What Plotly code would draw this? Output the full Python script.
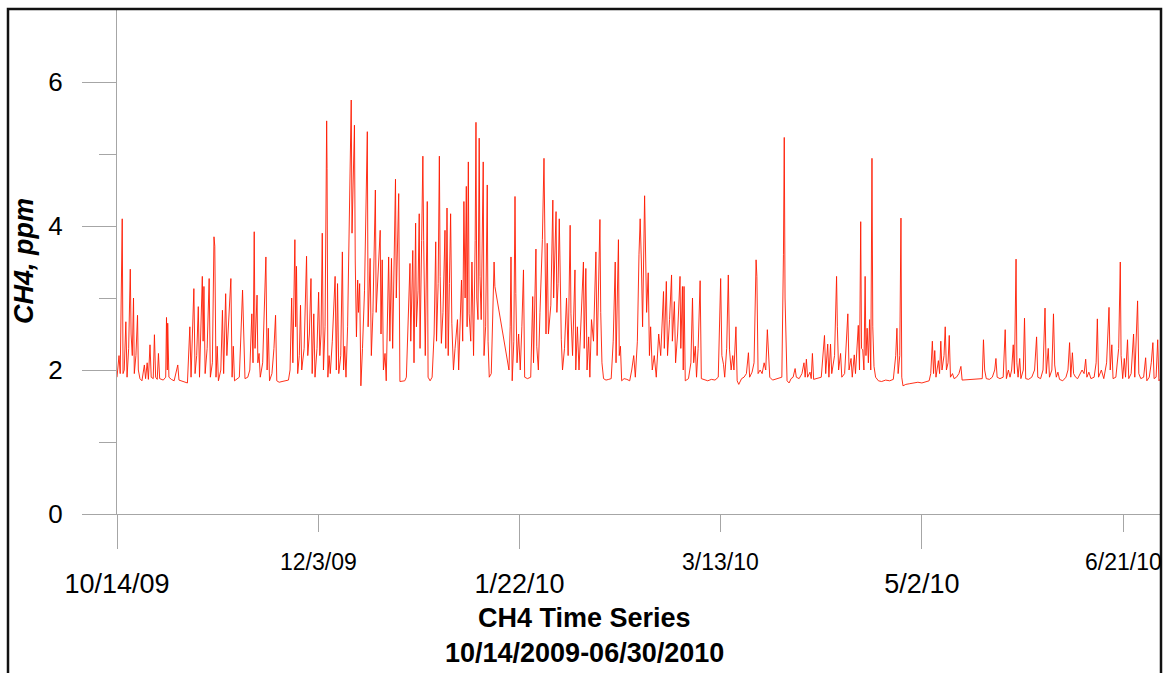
import pandas as pd
import plotly.graph_objects as go

# ---- data -------------------------------------------------------------
start_date = "2009-10-14"
end_date = "2010-06-30 10:00"

# elapsed days since start_date and measured CH4 (ppm)
elapsed_days = [
    0.0, 0.5, 0.8, 1.2, 1.3, 1.5, 1.8, 2.2, 2.5, 2.9, 3.3, 3.5, 3.8, 4.1, 4.3, 4.7,
    5.1, 5.3, 5.7, 6.2, 6.8, 7.1, 7.5, 7.8, 8.2, 8.5, 9.0, 9.3, 9.6, 10.0, 10.3, 10.6,
    11.5, 12.1, 12.3, 12.5, 12.6, 12.9, 13.5, 14.2, 15.1, 15.4, 16.0, 16.8, 17.5,
    18.1, 18.4, 19.1, 19.4, 19.8, 20.2, 20.5, 21.2, 21.4, 21.6, 21.9, 22.4, 22.9, 23.2,
    23.7, 24.1, 24.3, 24.6, 24.9, 25.2, 25.8, 26.2, 26.5, 27.0, 27.3, 27.7, 28.3, 28.6,
    28.9, 29.2, 29.8, 30.4, 31.2, 31.5, 31.8, 32.5, 33.0, 33.5, 33.8, 34.1, 34.3, 34.8,
    35.0, 35.3, 35.6, 36.2, 37.0, 37.3, 37.6, 37.9, 38.5, 39.0, 39.4, 39.7, 40.3, 41.0,
    41.8, 42.6, 43.0, 43.4, 43.7, 44.2, 44.4, 44.6, 44.9, 45.3, 45.6, 45.9, 46.5, 47.1,
    47.4, 47.8, 48.2, 48.5, 48.9, 49.2, 49.7, 50.1, 50.4, 50.7, 51.0, 51.3, 51.7, 52.1,
    52.2, 52.4, 52.7, 53.0, 53.5, 54.2, 54.5, 54.8, 55.1, 55.6, 56.0, 56.3, 56.6, 56.9,
    57.3, 57.8, 58.2, 58.4, 58.6, 59.0, 59.2, 59.5, 59.8, 60.0, 60.3, 60.6, 61.0, 61.5,
    62.2, 62.4, 62.9, 63.2, 63.6, 64.2, 64.4, 64.8, 65.4, 65.6, 65.9, 66.2, 66.6, 66.9,
    67.3, 67.5, 67.8, 68.2, 68.5, 69.2, 69.4, 70.0, 70.3, 70.8, 71.5, 71.9, 72.3, 72.8,
    73.0, 73.5, 73.8, 74.2, 74.4, 74.8, 75.1, 75.3, 75.7, 76.0, 76.2, 76.6, 77.1, 77.3,
    77.8, 78.3, 78.8, 79.2, 79.4, 79.8, 80.1, 80.3, 80.6, 81.0, 81.5, 81.7, 82.0, 82.3,
    82.6, 82.9, 83.2, 83.6, 84.0, 84.6, 84.9, 85.3, 85.6, 85.9, 86.2, 86.5, 86.8, 87.0,
    87.3, 87.5, 87.9, 88.2, 88.6, 89.0, 89.2, 89.4, 89.7, 90.0, 90.2, 90.5, 91.0, 91.2,
    91.6, 92.0, 92.2, 92.5, 93.0, 93.7, 93.9, 97.4, 97.7, 97.9, 98.2, 98.6, 98.9, 99.1,
    99.4, 99.8, 100.2, 100.6, 101.0, 101.3, 102.0, 102.8, 103.3, 103.5, 104.1, 104.3,
    104.7, 105.1, 105.7, 106.1, 106.3, 106.6, 106.9, 107.2, 107.8, 108.3, 108.5, 109.1,
    109.3, 109.6, 109.9, 110.1, 110.4, 110.7, 111.2, 111.7, 112.1, 112.6, 112.8, 113.2,
    113.8, 114.0, 114.4, 114.8, 115.2, 115.9, 116.1, 116.5, 116.8, 117.2, 117.5, 117.9,
    118.4, 119.0, 119.3, 120.0, 120.2, 120.5, 120.9, 121.5, 122.2, 122.8, 123.3, 123.8,
    124.0, 124.6, 124.8, 125.1, 125.4, 126.0, 126.7, 127.4, 127.9, 128.4, 128.8, 129.3,
    129.7, 130.0, 130.3, 130.6, 131.1, 131.3, 131.6, 132.0, 132.3, 132.6, 133.0, 133.5,
    134.0, 134.6, 135.1, 135.8, 136.0, 136.5, 136.8, 137.3, 137.8, 138.0, 138.5, 138.8,
    139.3, 139.9, 140.1, 140.5, 140.7, 140.9, 141.2, 142.0, 142.6, 143.0, 143.3, 143.7,
    144.0, 144.4, 144.9, 145.2, 146.0, 146.8, 147.7, 148.6, 149.4, 150.0, 150.3, 150.7,
    151.0, 151.5, 151.9, 152.2, 152.6, 153.0, 153.3, 153.8, 154.1, 154.5, 155.2, 155.8,
    156.4, 156.9, 157.2, 157.8, 158.3, 158.8, 159.0, 159.3, 159.8, 160.3, 160.8, 161.2,
    161.6, 161.9, 162.2, 162.9, 163.6, 164.3, 165.2, 165.6, 165.8, 166.0, 166.2, 166.5,
    167.0, 167.5, 168.0, 168.5, 168.8, 169.5, 170.2, 170.7, 171.0, 171.3, 171.6, 172.2,
    172.5, 172.8, 173.1, 174.0, 175.0, 175.8, 176.1, 176.6, 176.9, 177.3, 177.6, 178.3,
    178.8, 179.0, 179.3, 179.8, 180.1, 180.8, 181.2, 181.6, 181.9, 182.4, 182.7, 183.2,
    183.5, 183.9, 184.2, 184.5, 184.8, 185.0, 185.3, 185.6, 185.9, 186.1, 186.4, 186.7,
    187.0, 187.3, 187.6, 187.8, 188.1, 188.5, 189.2, 190.0, 191.0, 192.0, 192.9, 193.5,
    193.8, 194.1, 194.5, 194.8, 195.0, 195.3, 196.0, 197.0, 198.0, 199.0, 200.0, 201.0,
    201.8, 202.2, 202.6, 202.9, 203.2, 203.5, 204.1, 204.4, 204.7, 205.0, 205.5, 205.8,
    206.1, 206.5, 206.8, 207.1, 207.6, 208.0, 208.6, 209.2, 209.7, 210.0, 215.0, 215.3,
    215.6, 216.0, 216.8, 217.5, 218.1, 218.4, 218.7, 219.4, 220.2, 220.7, 221.0, 221.5,
    221.9, 222.3, 222.7, 223.0, 223.4, 223.6, 223.9, 224.3, 224.6, 225.2, 225.5, 225.8,
    226.5, 227.3, 228.0, 228.5, 228.8, 229.5, 230.1, 230.6, 230.9, 231.4, 231.7, 232.3,
    232.7, 233.0, 233.4, 233.8, 234.2, 235.0, 235.8, 236.3, 236.7, 237.0, 237.4, 237.7,
    238.2, 238.7, 239.3, 239.8, 240.3, 240.7, 241.0, 241.5, 242.0, 242.8, 243.3, 243.6,
    243.9, 244.6, 245.2, 245.9, 246.5, 246.8, 247.2, 247.5, 248.2, 248.9, 249.3, 249.5,
    249.9, 250.3, 250.6, 251.1, 251.4, 252.0, 252.6, 252.9, 253.6, 253.9, 254.4, 255.1,
    255.6, 255.9, 256.5, 257.0, 257.4, 257.7, 258.2, 258.6, 258.9, 259.4,
]

ch4_ppm = [
    1.90, 2.20, 1.95, 3.60, 4.10, 1.95, 2.00, 2.67, 1.90, 2.30, 3.40, 2.50, 2.20, 3.00, 1.95, 2.20,
    2.76, 2.00, 1.88, 1.85, 2.07, 1.88, 2.10, 1.87, 2.35, 1.90, 1.88, 2.49, 1.90, 1.87, 2.23, 1.88,
    1.86, 1.90, 2.73, 2.00, 2.65, 1.90, 1.87, 1.85, 2.07, 1.86, 1.85, 1.83, 1.82,
    2.60, 1.90, 3.13, 1.95, 2.20, 2.88, 1.90, 3.30, 2.40, 3.16, 1.95, 2.30, 3.27, 1.90,
    2.10, 3.85, 3.72, 1.90, 2.33, 1.85, 2.00, 2.83, 1.95, 3.06, 2.20, 2.60, 3.27, 1.90,
    2.33, 1.85, 1.87, 1.90, 3.11, 2.56, 1.88, 1.90, 2.00, 2.78, 2.10, 3.92, 2.30, 3.04,
    2.10, 2.23, 1.90, 2.10, 3.57, 2.00, 2.58, 1.85, 1.95, 2.30, 2.76, 1.85, 1.83, 1.84,
    1.85, 1.86, 2.00, 3.00, 2.10, 3.81, 2.60, 3.44, 1.95, 2.20, 2.90, 2.00, 2.30, 3.58,
    2.20, 2.50, 3.27, 1.95, 2.78, 1.90, 2.30, 3.08, 2.20, 2.50, 3.90, 2.00, 2.60, 5.46,
    4.80, 1.90, 2.20, 1.95, 2.40, 3.30, 2.00, 3.20, 1.95, 2.20, 3.64, 2.00, 2.33, 1.90,
    2.60, 4.30, 5.75, 3.90, 4.60, 5.40, 3.50, 2.46, 3.25, 2.80, 3.20, 1.78, 2.30, 3.10,
    5.31, 2.60, 3.55, 2.20, 2.80, 4.50, 2.80, 3.20, 3.94, 2.50, 3.53, 2.00, 2.23, 1.85,
    2.80, 3.57, 2.40, 3.55, 2.30, 4.65, 3.00, 4.45, 1.84, 1.84, 1.85, 1.90, 2.50, 3.48,
    2.40, 3.66, 2.10, 4.04, 2.60, 3.10, 4.17, 2.30, 3.80, 4.97, 3.80, 2.20, 4.34, 1.90,
    1.85, 1.90, 2.50, 3.78, 2.40, 3.20, 4.97, 3.30, 2.37, 2.80, 3.94, 2.30, 4.25, 2.20,
    3.20, 4.17, 2.65, 2.00, 2.30, 2.70, 2.00, 2.70, 3.25, 2.40, 4.34, 3.00, 4.55, 2.60,
    4.89, 2.78, 2.40, 3.50, 2.20, 3.80, 5.44, 3.00, 2.70, 5.22, 3.30, 2.70, 4.89, 2.20,
    2.60, 4.57, 2.40, 1.90, 1.95, 3.50, 3.16, 2.00, 2.60, 3.57, 1.85, 2.40, 4.41, 3.06,
    2.10, 2.50, 2.00, 2.60, 3.39, 1.90, 1.88, 1.90, 3.02, 2.10, 3.68, 2.33,
    2.00, 2.80, 3.81, 4.94, 3.46, 2.50, 3.76, 2.50, 2.90, 4.36, 3.00, 4.20,
    2.80, 3.20, 4.10, 3.41, 2.42, 2.00, 2.30, 3.00, 2.20, 4.01, 2.78, 2.20,
    3.39, 2.00, 2.60, 2.00, 2.50, 3.50, 2.30, 3.41, 2.00, 2.46, 1.90, 2.70,
    2.40, 3.64, 2.20, 4.09, 2.80, 2.10, 1.88, 1.86, 1.87, 1.88, 2.40, 3.50,
    2.10, 3.81, 2.20, 2.33, 1.85, 1.88, 1.87, 1.85, 2.00, 2.20, 1.90, 2.40,
    3.60, 4.10, 3.50, 2.60, 4.42, 3.72, 2.80, 3.35, 2.20, 2.60, 2.00, 2.20,
    1.90, 2.50, 2.20, 3.09, 2.30, 3.23, 2.20, 2.70, 3.32, 2.40, 2.95, 2.10,
    2.50, 3.30, 2.30, 3.16, 2.00, 3.16, 1.85, 1.88, 2.10, 3.00, 2.10, 2.33,
    1.90, 2.30, 3.24, 1.88, 1.86, 1.85, 1.87, 1.86, 1.90, 3.27, 2.20, 2.08,
    1.90, 2.30, 3.32, 2.28, 2.00, 2.20, 2.00, 2.60, 1.85, 1.80, 1.88, 1.90,
    1.95, 2.24, 1.90, 1.97, 2.10, 3.53, 3.30, 1.95, 2.00, 1.95, 2.10, 2.00,
    2.56, 2.30, 1.90, 1.86, 1.87, 1.88, 1.90, 3.60, 5.23, 3.00, 2.28, 1.85,
    1.82, 1.88, 1.90, 2.02, 1.90, 1.88, 1.95, 2.10, 1.90, 2.15, 1.90, 1.97,
    1.88, 2.23, 1.87, 1.88, 1.90, 2.48, 1.95, 2.36, 1.90, 2.36, 1.95, 2.20,
    3.30, 2.60, 2.00, 2.23, 1.90, 1.95, 2.30, 2.78, 2.00, 2.16, 1.90, 2.21,
    1.95, 2.40, 2.62, 2.00, 4.06, 2.30, 2.28, 2.00, 3.30, 2.20, 2.58, 2.10,
    2.70, 2.00, 4.94, 2.60, 2.05, 1.90, 1.85, 1.84, 1.86, 1.85, 1.87, 2.20,
    2.58, 1.95, 2.20, 4.11, 1.90, 1.78, 1.80, 1.81, 1.82, 1.83, 1.82, 1.84,
    1.85, 1.95, 2.40, 1.95, 2.27, 1.90, 2.13, 1.95, 2.40, 2.00, 2.20, 2.60,
    2.00, 2.10, 2.48, 1.90, 1.95, 1.88, 1.90, 1.95, 2.05, 1.86, 1.88, 2.42,
    2.00, 1.88, 1.87, 1.90, 2.00, 2.16, 1.90, 1.88, 1.90, 2.56, 1.88, 2.00,
    1.90, 2.00, 2.35, 1.95, 3.54, 2.10, 1.90, 2.16, 1.88, 2.00, 2.72, 1.88,
    1.87, 1.90, 2.00, 2.46, 1.90, 1.88, 2.00, 2.86, 1.95, 2.30, 1.90, 2.00,
    2.78, 2.07, 1.90, 1.97, 1.87, 1.85, 1.90, 2.00, 2.38, 1.90, 2.24, 1.95,
    1.90, 1.88, 1.95, 2.00, 1.95, 2.15, 1.90, 1.97, 1.88, 1.90, 2.10, 2.71,
    1.90, 2.00, 1.88, 2.10, 2.87, 2.00, 2.35, 1.88, 1.90, 2.30, 3.50, 2.20,
    1.88, 2.16, 1.90, 2.42, 1.88, 1.95, 2.50, 1.90, 2.96, 1.95, 1.88, 1.90,
    2.17, 1.85, 1.90, 2.10, 2.38, 1.88, 1.90, 2.42, 1.85, 1.88,
]

# labelled ticks: long ticks every 100 days, short ticks in between
major_tick_dates = ["2009-10-14", "2010-01-22", "2010-05-02"]
major_tick_text = ["10/14/09", "1/22/10", "5/2/10"]
minor_tick_dates = ["2009-12-03", "2010-03-13", "2010-06-21"]
minor_tick_text = ["12/3/09", "3/13/10", "6/21/10"]

y_major_ticks = [0, 2, 4, 6]
y_minor_ticks = [1, 3, 5]

# ---- figure -----------------------------------------------------------
W, H = 1166, 673
ML, MR, MT, MB = 117, 5, 10, 159
PW, PH = W - ML - MR, H - MT - MB

def px_x(px):
    return (px - ML) / PW

def px_y(py):
    return (H - MB - py) / PH

times = pd.Timestamp(start_date) + pd.to_timedelta(elapsed_days, unit="D")

AXIS_GREY = "#a6a6a6"
FONT = "Arial, Liberation Sans, sans-serif"

fig = go.Figure()
fig.add_trace(go.Scatter(
    x=times, y=ch4_ppm, mode="lines",
    line=dict(color="#ff1a00", width=0.9),
    showlegend=False, hoverinfo="x+y",
))

fig.update_layout(
    width=W, height=H, autosize=False,
    margin=dict(l=ML, r=MR, t=MT, b=MB, pad=0),
    paper_bgcolor="white", plot_bgcolor="white",
    font=dict(family=FONT, color="black"),
    showlegend=False,
)

fig.update_xaxes(
    type="date",
    range=[start_date, end_date],
    showgrid=False, zeroline=False,
    showline=True, linecolor=AXIS_GREY, linewidth=1,
    ticks="outside", ticklen=34, tickwidth=1, tickcolor=AXIS_GREY,
    tickmode="array", tickvals=major_tick_dates, ticktext=major_tick_text,
    tickfont=dict(size=27, family=FONT, color="black"),
    ticklabelstandoff=12,
    minor=dict(tickmode="array", tickvals=minor_tick_dates, ticks="outside",
               ticklen=17, tickwidth=1, tickcolor=AXIS_GREY, showgrid=False),
)

fig.update_yaxes(
    range=[0, 7],
    showgrid=False, zeroline=False,
    showline=True, linecolor=AXIS_GREY, linewidth=1,
    ticks="outside", ticklen=34, tickwidth=1, tickcolor=AXIS_GREY,
    tickmode="array", tickvals=y_major_ticks,
    tickfont=dict(size=26, family=FONT, color="black"),
    ticklabelstandoff=14,
    minor=dict(tickmode="array", tickvals=y_minor_ticks, ticks="outside",
               ticklen=17, tickwidth=1, tickcolor=AXIS_GREY, showgrid=False),
)

# labels for the short x ticks, sitting above the long-tick labels
for d, txt in zip(minor_tick_dates, minor_tick_text):
    fig.add_annotation(
        x=d, xref="x", y=px_y(562), yref="paper",
        text=txt, showarrow=False, xanchor="center", yanchor="middle",
        font=dict(size=23, family=FONT, color="black"),
    )

# y-axis title
fig.add_annotation(
    x=px_x(24), xref="paper", y=px_y(261), yref="paper",
    text="<b><i>CH4, ppm</i></b>", textangle=-90, showarrow=False,
    xanchor="center", yanchor="middle",
    font=dict(size=27, family=FONT, color="black"),
)

# two-line caption under the axis
fig.add_annotation(
    x=px_x(584), xref="paper", y=px_y(618), yref="paper",
    text="<b>CH4 Time Series</b>", showarrow=False,
    xanchor="center", yanchor="middle",
    font=dict(size=27, family=FONT, color="black"),
)
fig.add_annotation(
    x=px_x(584), xref="paper", y=px_y(653), yref="paper",
    text="<b>10/14/2009-06/30/2010</b>", showarrow=False,
    xanchor="center", yanchor="middle",
    font=dict(size=27, family=FONT, color="black"),
)

# outer frame around the whole chart (open at the bottom edge)
fig.add_shape(
    type="rect", xref="paper", yref="paper",
    x0=px_x(8), x1=px_x(1161), y0=px_y(720), y1=px_y(9),
    line=dict(color="#111111", width=2.5), fillcolor="rgba(0,0,0,0)",
    layer="above",
)

fig.write_html("out.html")
